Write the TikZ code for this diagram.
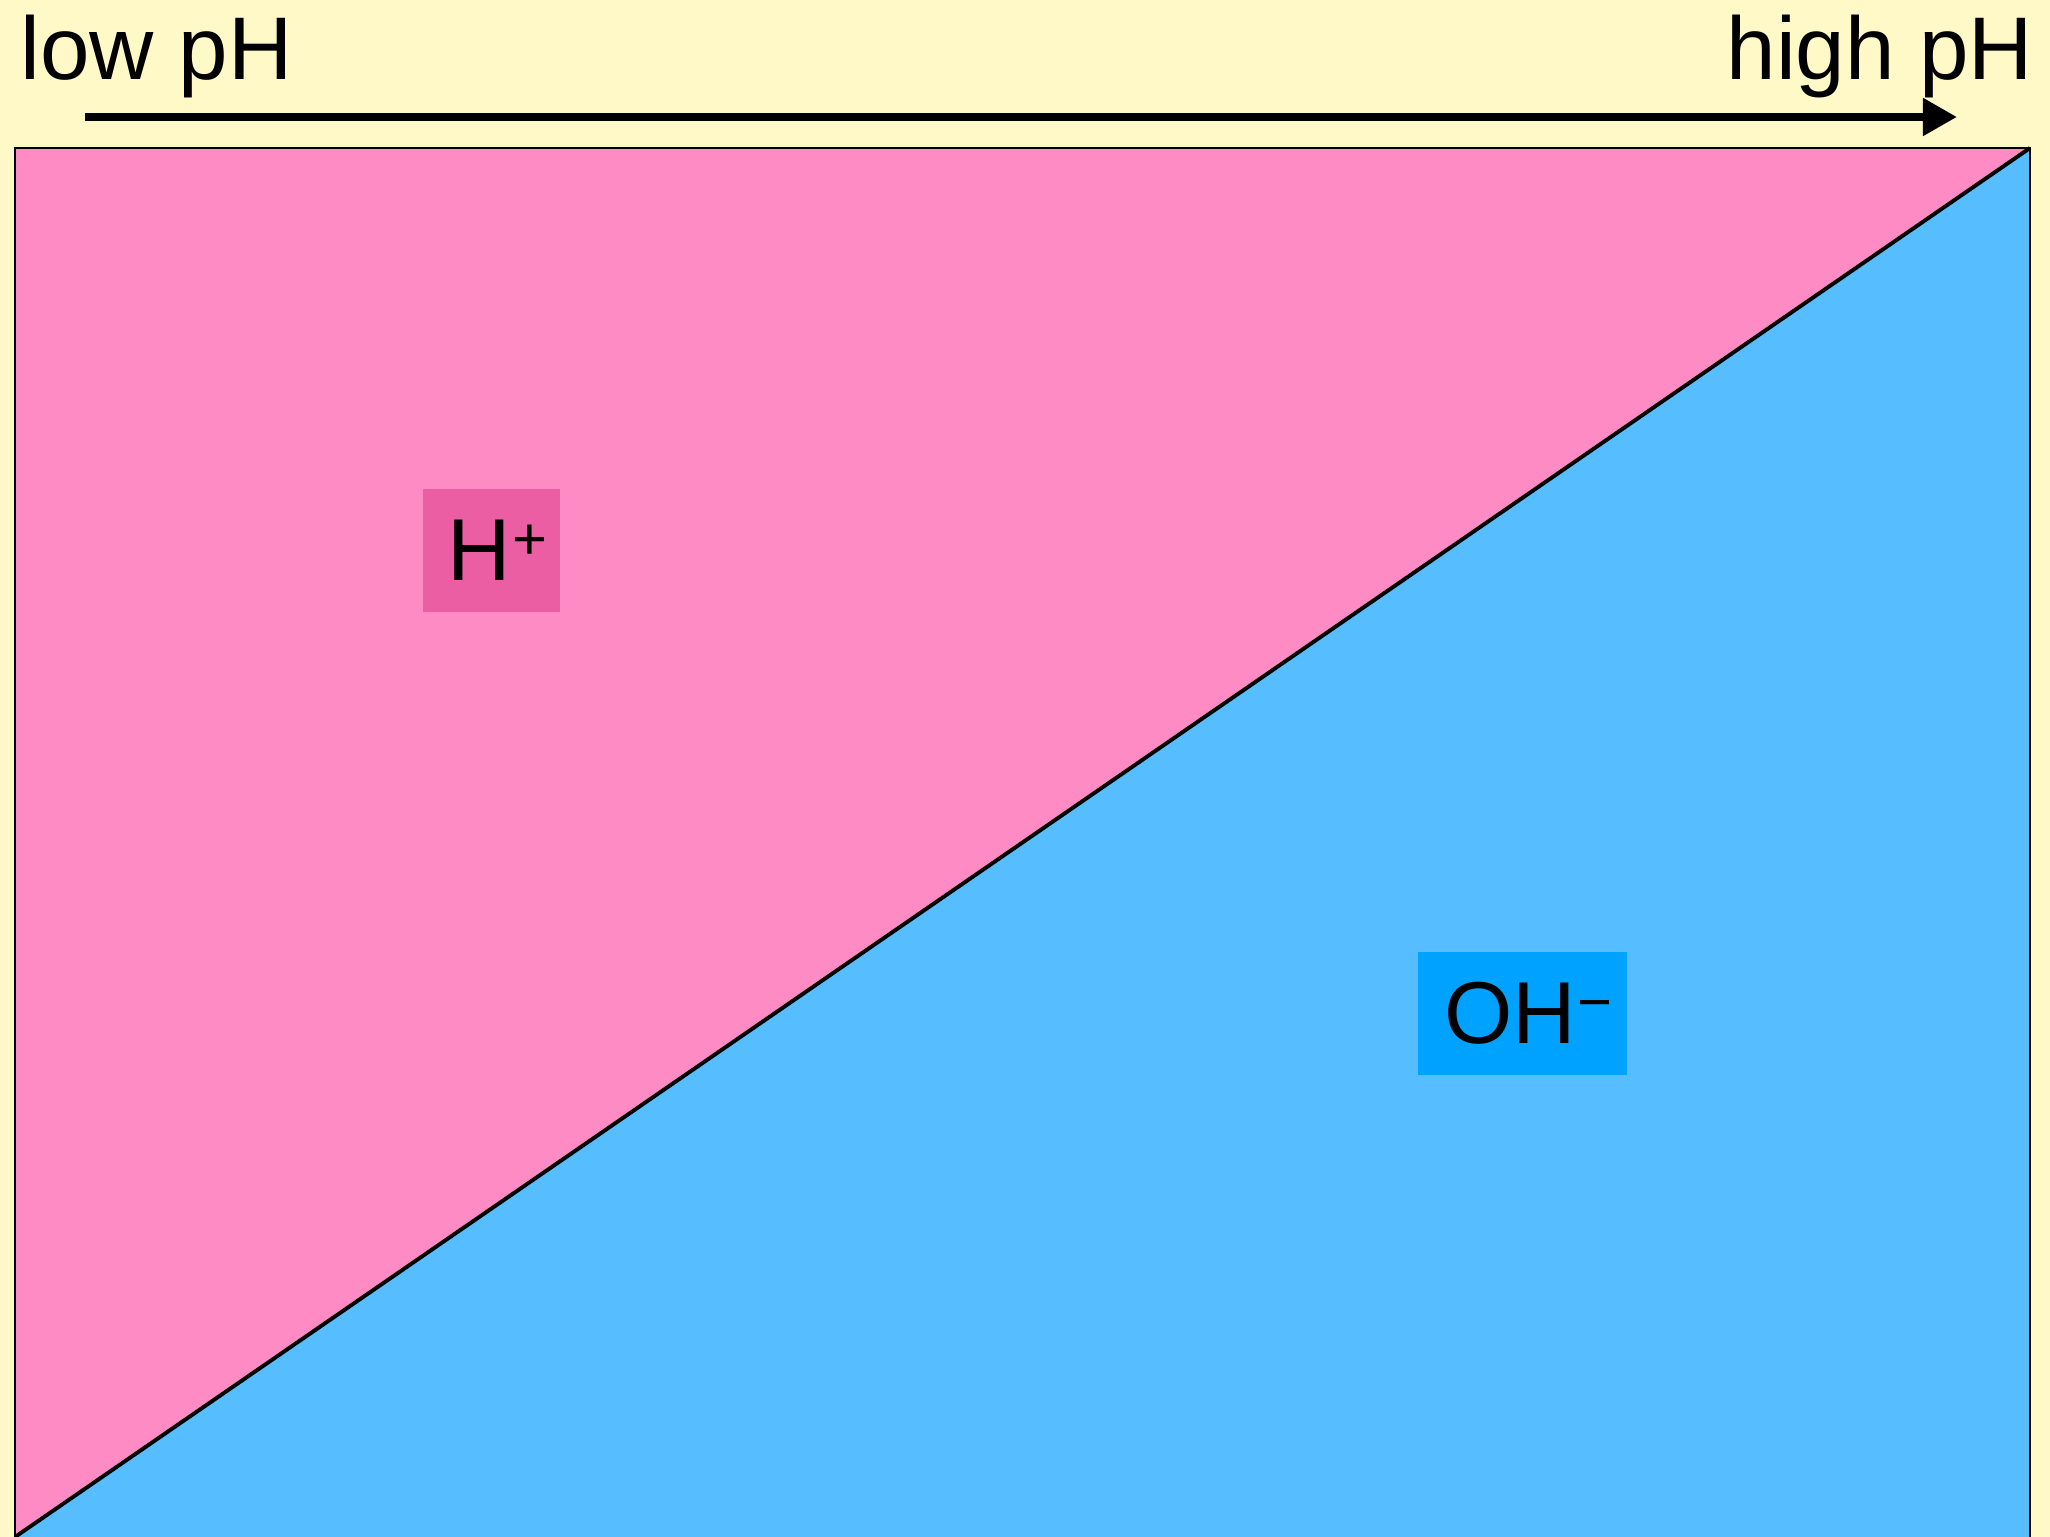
\documentclass[tikz,border=0pt]{standalone}
\usepackage{fontspec}
\setmainfont{Liberation Sans}
\definecolor{PaperYellow}{HTML}{FFF9C8}
\definecolor{AcidPink}{HTML}{FF8BC4}
\definecolor{AcidPinkDark}{HTML}{EC5EA3}
\definecolor{BaseBlue}{HTML}{56BEFE}
\definecolor{BaseBlueDark}{HTML}{00A2FF}
\usetikzlibrary{arrows.meta, positioning}
\newcommand{\ioncharge}[1]{\hspace{0.5pt}\raisebox{6pt}{\fontsize{17}{20}\selectfont #1}}

\begin{document}
\begin{tikzpicture}[
  x=0.01cm, y=-0.01cm,
  lbl/.style={inner sep=0pt, font=\fontsize{25.3}{30}\selectfont},
  ionbox/.style={rectangle, inner sep=0pt, minimum height=1.23cm,
    font=\fontsize{25}{30}\selectfont, align=center},
  >={Triangle[length=0.34cm, width=0.36cm]}
]
  \useasboundingbox[fill=PaperYellow] (0,0) rectangle (2050,1537);

  % acid / base regions
  \fill[AcidPink] (15,148) -- (2030,148) -- (15,1537) -- cycle;
  \fill[BaseBlue] (2030,148) -- (2030,1537) -- (15,1537) -- cycle;
  \draw[line width=0.6pt] (15,1537) -- (15,148) -- (2030,148) -- (2030,1537);
  \draw[line width=1.1pt] (15,1537) -- (2030,148);

  % pH scale
  \node[lbl, anchor=base west] (low) at (20,80) {low pH};
  \node[lbl, anchor=base east] (high) at (2034,80) {high pH};
  \coordinate (start) at (85,117);
  \coordinate (stop) at (1957,117);
  \draw[->, line width=0.08cm] (start) -- (stop);

  % ions
  \node[ionbox, fill=AcidPinkDark, minimum width=1.37cm] (hplus) at (491.5,550.5) {};
  \node[ionbox] at ([xshift=0.06cm]hplus.center) {H\ioncharge{+}};
  \node[ionbox, fill=BaseBlueDark, minimum width=2.09cm] (ohminus) at (1522.5,1013.5) {};
  \node[ionbox] at ([xshift=0.06cm]ohminus.center) {OH\ioncharge{\char"2212}};
\end{tikzpicture}
\end{document}
